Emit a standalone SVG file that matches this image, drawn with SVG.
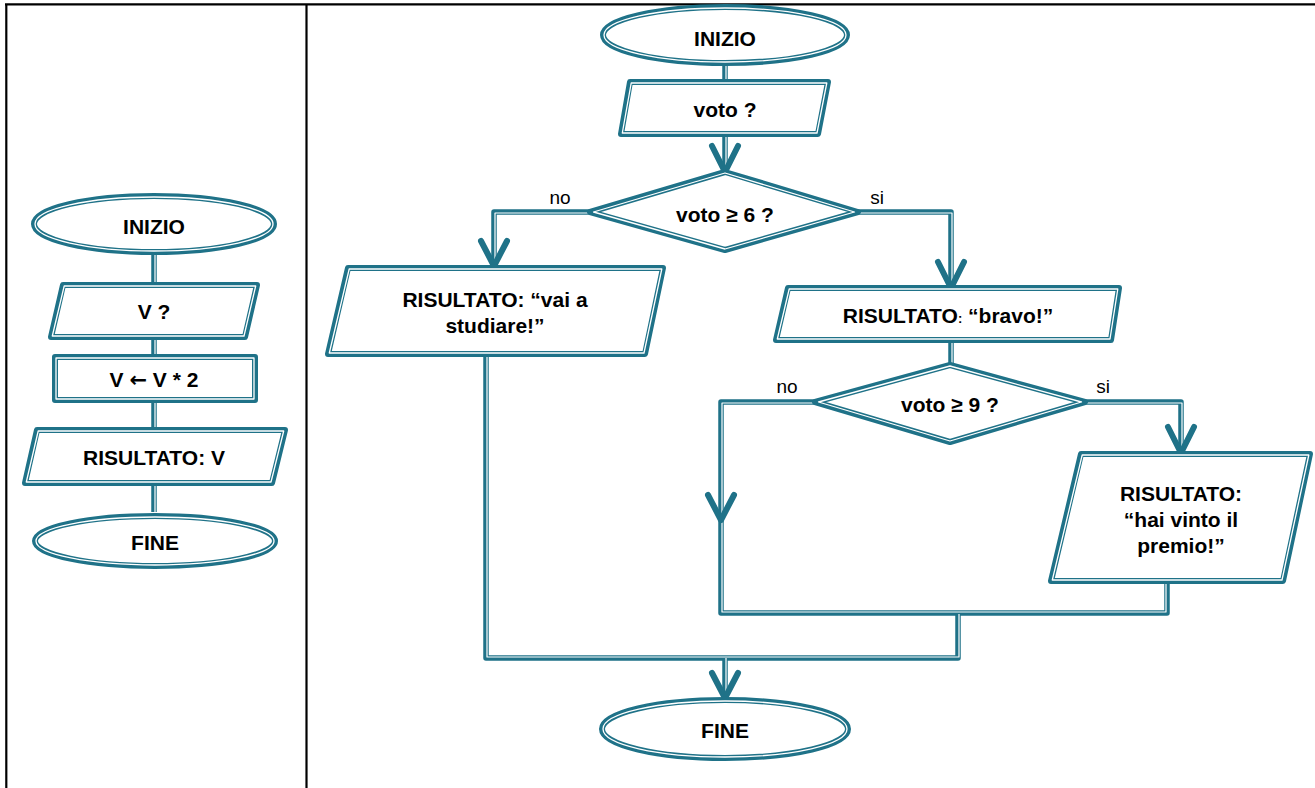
<svg xmlns="http://www.w3.org/2000/svg" width="1315" height="788" viewBox="0 0 1315 788">
<style>
.o{fill:#fff;stroke:#1f7288;stroke-width:6;stroke-linejoin:round}
.i{fill:none;stroke:#fff;stroke-width:1.3;stroke-linejoin:round}
.c{fill:none;stroke:#1f7288;stroke-width:5.5;stroke-linejoin:round}
.ci{fill:none;stroke:#fff;stroke-width:1.2;stroke-linejoin:round}
.ah{fill:none;stroke:#1f7288;stroke-width:6;stroke-linecap:round;stroke-linejoin:round}
.t{font-family:"Liberation Sans",Arial,sans-serif;font-weight:bold;font-size:21px;fill:#000;text-anchor:middle}
.l{font-family:"Liberation Sans",Arial,sans-serif;font-size:19px;fill:#000;text-anchor:middle}
.b{stroke:#000;stroke-width:2.2;fill:none}
</style>
<rect width="1315" height="788" fill="#fff"/>
<g id="frame">
<line class="b" x1="5" y1="4.3" x2="1315" y2="4.3"/>
<line class="b" x1="6.3" y1="4" x2="6.3" y2="788"/>
<line class="b" x1="306.5" y1="4" x2="306.5" y2="788"/>
</g>
<g id="connectors">
<polyline class="c" points="154,253 154,512"/>
<polyline class="ci" points="155,253 155,512"/>
<polyline class="c" points="725,63 725,170"/>
<polyline class="ci" points="726,63 726,166"/>
<polyline class="c" points="590,212 494,212 494,264"/>
<polyline class="ci" points="590,213 495,213 495,262"/>
<polyline class="c" points="858,212 951,212 951,286"/>
<polyline class="ci" points="858,213 952,213 952,282"/>
<polyline class="c" points="951,340 951,365"/>
<polyline class="ci" points="952,340 952,365"/>
<polyline class="c" points="815,402 721,402 721,613 1167,613 1167,582"/>
<polyline class="ci" points="815,403 722,403 722,612 1166,612 1166,582"/>
<polyline class="c" points="1085,402 1181,402 1181,451"/>
<polyline class="ci" points="1085,403 1182,403 1182,447"/>
<polyline class="c" points="958,613 958,658 486,658 486,355"/>
<polyline class="ci" points="959,614 959,657 487,657 487,355"/>
<polyline class="c" points="725,658 725,696"/>
<polyline class="ci" points="726,658 726,692"/>
<polyline class="ah" points="712,146 725,172 738,146"/>
<polyline class="ah" points="481,241 494,266 507,241"/>
<polyline class="ah" points="938,262 951,288 964,262"/>
<polyline class="ah" points="708,495 721,520 734,495"/>
<polyline class="ah" points="1168,427 1181,453 1194,427"/>
<polyline class="ah" points="712,673 725,698 738,673"/>
<text class="l" x="560" y="204">no</text>
<text class="l" x="877" y="204">si</text>
<text class="l" x="787" y="393">no</text>
<text class="l" x="1103" y="393">si</text>
</g>
<g id="l-inizio">
<ellipse class="o" cx="154" cy="224" rx="120" ry="28"/>
<ellipse class="i" cx="154" cy="224" rx="119" ry="27"/>
<text class="t" x="154" y="234">INIZIO</text>
</g>
<g id="l-input">
<path class="o" d="M63,285 L257,285 L245,337 L51,337 Z"/>
<path class="i" d="M64.2,286 L255.7,286 L244,336 L52.3,336 Z"/>
<text class="t" x="154" y="319">V ?</text>
</g>
<g id="l-assign">
<rect class="o" x="55" y="357" width="200" height="43"/>
<rect class="i" x="56" y="358" width="198" height="41"/>
<text class="t" x="154" y="387">V <tspan font-family="'DejaVu Sans',sans-serif" font-weight="bold">←</tspan> V * 2</text>
</g>
<g id="l-output">
<path class="o" d="M37,430 L285,430 L272,483 L25,483 Z"/>
<path class="i" d="M38.2,431 L283.7,431 L271,482 L26.3,482 Z"/>
<text class="t" x="154" y="465">RISULTATO: V</text>
</g>
<g id="l-fine">
<ellipse class="o" cx="155" cy="541" rx="120" ry="25"/>
<ellipse class="i" cx="155" cy="541" rx="119" ry="24"/>
<text class="t" x="155" y="550">FINE</text>
</g>
<g id="r-inizio">
<ellipse class="o" cx="725" cy="35" rx="122" ry="28"/>
<ellipse class="i" cx="725" cy="35" rx="121" ry="27"/>
<text class="t" x="725" y="46">INIZIO</text>
</g>
<g id="r-input">
<path class="o" d="M630,82 L828,82 L818,134 L621,134 Z"/>
<path class="i" d="M631.2,83 L826.8,83 L817,133 L622.3,133 Z"/>
<text class="t" x="725" y="117">voto ?</text>
</g>
<g id="r-dec6">
<path class="o" d="M725,172 L858,212 L725,250 L590,212 Z"/>
<path class="i" d="M725,173 L854.5,212 L725,249 L593.5,212 Z"/>
<text class="t" x="725" y="222">voto ≥ 6 ?</text>
</g>
<g id="r-studiare">
<path class="o" d="M348,268 L663,268 L645,354 L328,354 Z"/>
<path class="i" d="M349.2,269 L661.8,269 L644,353 L329.3,353 Z"/>
<text class="t" x="495" y="307">RISULTATO: “vai a</text>
<text class="t" x="495" y="333">studiare!”</text>
</g>
<g id="r-bravo">
<path class="o" d="M788,288 L1119,288 L1111,340 L776,340 Z"/>
<path class="i" d="M789.2,289 L1117.8,289 L1110,339 L777.3,339 Z"/>
<text class="t" x="948" y="323">RISULTATO<tspan font-size="13">:</tspan> “bravo!”</text>
</g>
<g id="r-dec9">
<path class="o" d="M950,365 L1085,402 L950,442 L815,402 Z"/>
<path class="i" d="M950,366 L1081.5,402 L950,441 L818.5,402 Z"/>
<text class="t" x="950" y="412">voto ≥ 9 ?</text>
</g>
<g id="r-premio">
<path class="o" d="M1081,454 L1310,454 L1283,581 L1051,581 Z"/>
<path class="i" d="M1082.2,455 L1308.8,455 L1282,580 L1052.3,580 Z"/>
<text class="t" x="1181" y="501">RISULTATO:</text>
<text class="t" x="1181" y="527">“hai vinto il</text>
<text class="t" x="1181" y="553">premio!”</text>
</g>
<g id="r-fine">
<ellipse class="o" cx="725" cy="729" rx="123" ry="29"/>
<ellipse class="i" cx="725" cy="729" rx="122" ry="28"/>
<text class="t" x="725" y="738">FINE</text>
</g>
</svg>
